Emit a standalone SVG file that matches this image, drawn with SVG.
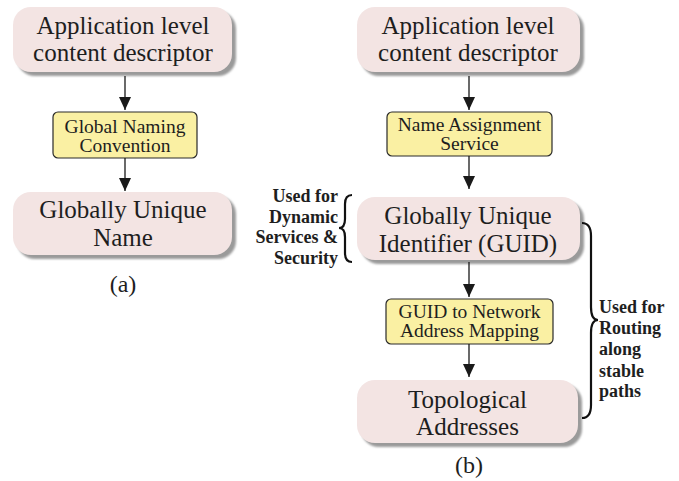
<svg xmlns="http://www.w3.org/2000/svg" width="679" height="481" viewBox="0 0 679 481">
<defs>
<filter id="blur" x="-10%" y="-10%" width="120%" height="130%"><feGaussianBlur stdDeviation="1.2"/></filter>
<marker id="ah" viewBox="0 0 13 12" refX="13" refY="6" markerWidth="13" markerHeight="12" markerUnits="userSpaceOnUse" orient="auto"><path d="M0,0 L13,6 L0,12 z" fill="#1a1a1a"/></marker>
</defs>
<style>
.pk{fill:#f3e4e3}
.sh{fill:#9a9a9a;filter:url(#blur)}
.yl{fill:#faf0a3;stroke:#2a2a2a;stroke-width:1.2}
text{font-family:'Liberation Serif','Times New Roman',Times,serif;fill:#1e1e1e}
.t{text-anchor:middle}
.big{font-size:25px}
.sm{font-size:19.5px}
.lb{font-weight:bold;font-size:18px}
.ar{stroke:#1a1a1a;stroke-width:1.3;fill:none;marker-end:url(#ah)}
.br{stroke:#111;stroke-width:2.2;fill:none}
</style>
<g id="a-top">
<rect class="sh" x="17" y="11" width="219" height="65" rx="18"/>
<rect class="pk" x="13" y="7" width="219" height="65" rx="18"/>
<text class="t big" x="123" y="34">Application level</text>
<text class="t big" x="123" y="61">content descriptor</text>
</g>
<g id="a-conv">
<rect class="yl" x="53" y="112" width="144" height="46" rx="5"/>
<text class="t sm" x="125" y="133">Global Naming</text>
<text class="t sm" x="125" y="152">Convention</text>
</g>
<g id="a-name">
<rect class="sh" x="17" y="196" width="219" height="63" rx="18"/>
<rect class="pk" x="13" y="192" width="219" height="63" rx="18"/>
<text class="t big" x="123" y="218">Globally Unique</text>
<text class="t big" x="123" y="246">Name</text>
</g>
<text class="t" x="123" y="292" font-size="24px">(a)</text>
<g id="b-top">
<rect class="sh" x="361" y="11" width="223" height="65" rx="18"/>
<rect class="pk" x="357" y="7" width="223" height="65" rx="18"/>
<text class="t big" x="468" y="34">Application level</text>
<text class="t big" x="468" y="61">content descriptor</text>
</g>
<g id="b-nas">
<rect class="yl" x="387" y="112" width="165" height="44" rx="5"/>
<text class="t sm" x="469.5" y="131">Name Assignment</text>
<text class="t sm" x="469.5" y="150">Service</text>
</g>
<g id="b-guid">
<rect class="sh" x="361" y="201" width="223" height="63" rx="18"/>
<rect class="pk" x="357" y="197" width="223" height="63" rx="18"/>
<text class="t big" x="468" y="224">Globally Unique</text>
<text class="t big" x="468" y="252">Identifier (GUID)</text>
</g>
<g id="b-map">
<rect class="yl" x="386" y="299" width="167" height="45" rx="5"/>
<text class="t sm" x="469.5" y="318">GUID to Network</text>
<text class="t sm" x="469.5" y="337">Address Mapping</text>
</g>
<g id="b-topo">
<rect class="sh" x="361" y="384" width="221" height="63" rx="18"/>
<rect class="pk" x="357" y="380" width="221" height="63" rx="18"/>
<text class="t big" x="467.5" y="408">Topological</text>
<text class="t big" x="467.5" y="435">Addresses</text>
</g>
<text class="t" x="469" y="473" font-size="24px">(b)</text>
<g id="connectors">
<line class="ar" x1="125" y1="76" x2="125" y2="110"/>
<line class="ar" x1="125" y1="158" x2="125" y2="191"/>
<line class="ar" x1="469" y1="76" x2="469" y2="110"/>
<line class="ar" x1="469" y1="156" x2="469" y2="189"/>
<line class="ar" x1="469" y1="262" x2="469" y2="297"/>
<line class="ar" x1="469" y1="344" x2="469" y2="377"/>
</g>
<g id="brace-left">
<path class="br" d="M352,195 Q345,195 345,204 L345,219 Q345,228 339,228 Q345,228 345,237 L345,253 Q345,262 352,262"/>
<text class="lb" text-anchor="end" x="338" y="202">Used for</text>
<text class="lb" text-anchor="end" x="338" y="223">Dynamic</text>
<text class="lb" text-anchor="end" x="338" y="243">Services &amp;</text>
<text class="lb" text-anchor="end" x="338" y="264">Security</text>
</g>
<g id="brace-right">
<path class="br" d="M582,223 Q591,223 591,236 L591,307 Q591,320 598,320 Q591,320 591,333 L591,405 Q591,418 582,418"/>
<text class="lb" x="599" y="313">Used for</text>
<text class="lb" x="599" y="334">Routing</text>
<text class="lb" x="599" y="355">along</text>
<text class="lb" x="599" y="377">stable</text>
<text class="lb" x="599" y="397">paths</text>
</g>
</svg>
